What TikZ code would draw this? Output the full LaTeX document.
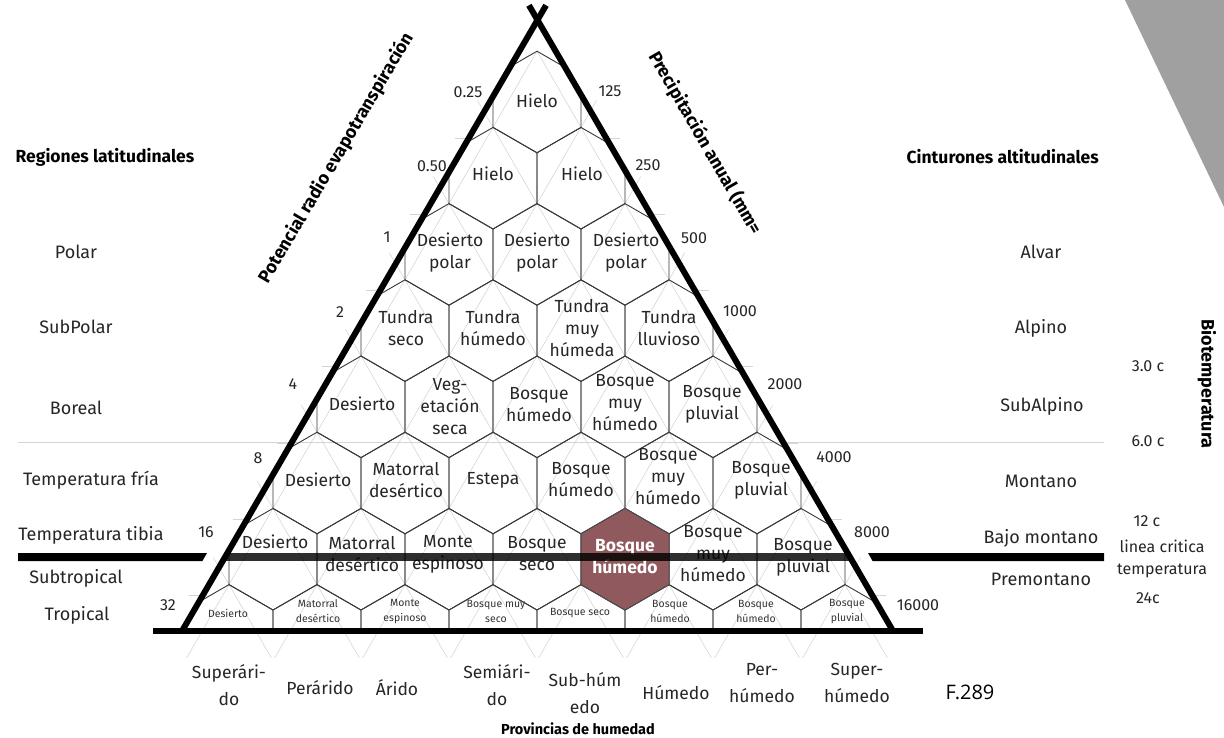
\documentclass[tikz,border=0pt]{standalone}
\usepackage{fontspec}
\setmainfont{Fira Sans}
\newfontfamily\figfont{Open Sans}
\definecolor{hexbrown}{RGB}{143,89,94}
\definecolor{guidegray}{RGB}{212,212,212}
\definecolor{bandgray}{RGB}{160,160,160}
\begin{document}
\begin{tikzpicture}[x=1pt,y=-1pt,
  hexline/.style={draw=black!78,line width=0.9pt,line join=miter},
  guide/.style={draw=guidegray,line width=0.55pt},
  hexlbl/.style={font=\fontsize{17.5}{22}\selectfont,align=center,inner sep=0pt,text=black!85},
  hilbl/.style={font=\bfseries\fontsize{17.5}{22}\selectfont,align=center,inner sep=0pt,text=white},
  smalllbl/.style={font=\fontsize{10.5}{15}\selectfont,align=center,inner sep=0pt,text=black!80},
  sidelbl/.style={font=\fontsize{18}{22}\selectfont,inner sep=0pt,text=black!85,align=center},
  numlbl/.style={font=\fontsize{16}{22}\selectfont,inner sep=0pt,text=black!85},
  titlelbl/.style={font=\bfseries\fontsize{17.5}{20}\selectfont,inner sep=0pt},
  provtitle/.style={font=\bfseries\fontsize{14.5}{17}\selectfont,inner sep=0pt},
  axislbl/.style={font=\bfseries\fontsize{18}{20}\selectfont,inner sep=0pt},
  provlbl/.style={font=\fontsize{17.5}{27}\selectfont,align=center,inner sep=0pt,text=black!85},
  thickbar/.style={fill=black},
]
\useasboundingbox (0,0) rectangle (1224,737);
\fill[white] (0,0) rectangle (1224,737);
\fill[bandgray] (1125,0) -- (1224,0) -- (1224,207) -- cycle;

\coordinate (A) at (182,631);
\coordinate (B) at (893,631);
\coordinate (C) at (537.5,20);

% full guide line
\draw[guide] (18,442) -- (1104,442);

% guide lines (two diagonal families)
\draw[guide] (537,51.2) -- (186.6,658);
\draw[guide] (537,51.2) -- (887.4,658);
\foreach \j in {1,...,7}{
  \pgfmathsetmacro\px{537+44*\j}
  \pgfmathsetmacro\qx{537-44*\j}
  \pgfmathsetmacro\py{51.2+76.2*\j}
  \pgfmathsetmacro\t{(658-\py)/76.2}
  \draw[guide] (\px+15.6,\py-27) -- (\px-44*\t,658);
  \draw[guide] (\qx-15.6,\py-27) -- (\qx+44*\t,658);
}
% horizontal stubs
\foreach \k in {0,...,6}{
  \pgfmathsetmacro\yy{138+76.2*\k}
  \pgfmathsetmacro\xl{182+(631-\yy)/1.7195}
  \pgfmathsetmacro\xr{893-(631-\yy)/1.7195}
  \draw[guide] (\xl-14,\yy) -- (\xl+4,\yy);
  \draw[guide] (\xr-4,\yy) -- (\xr+14,\yy);
}

% hexagons
\begin{scope}
\clip (A) -- (C) -- (B) -- cycle;
\foreach \k in {0,...,7}{
 \foreach \j in {0,...,\k}{
  \pgfmathsetmacro\cx{537+88*(\j-\k/2)}
  \pgfmathsetmacro\cy{102+76.2*\k}
  \draw[hexline] (\cx,\cy-50.8) -- ++(44,25.4) -- ++(0,50.8) -- ++(-44,25.4) -- ++(-44,-25.4) -- ++(0,-50.8) -- cycle;
 }}
\filldraw[fill=hexbrown,draw=black!70,line width=1pt] (625,508.4) -- ++(44,25.4) -- ++(0,50.8) -- ++(-44,25.4) -- ++(-44,-25.4) -- ++(0,-50.8) -- cycle;
\end{scope}

% hexagon labels
\node[hexlbl] (h00) at (537,101) {Hielo};
\node[hexlbl] (h10) at (493,174) {Hielo};
\node[hexlbl] (h11) at (582,174) {Hielo};
\node[hexlbl] (h20) at (450,253) {Desierto\\polar};
\node[hexlbl] (h21) at (537,253) {Desierto\\polar};
\node[hexlbl] (h22) at (626,253) {Desierto\\polar};
\node[hexlbl] (h30) at (406,328) {Tundra\\seco};
\node[hexlbl] (h31) at (493,328) {Tundra\\húmedo};
\node[hexlbl] (h32) at (582,328) {Tundra\\muy\\húmeda};
\node[hexlbl] (h33) at (669,328) {Tundra\\lluvioso};
\node[hexlbl] (h40) at (362,404) {Desierto};
\node[hexlbl] (h41) at (450,407) {Veg-\\etación\\seca};
\node[hexlbl] (h42) at (539,405) {Bosque\\húmedo};
\node[hexlbl] (h43) at (625,403) {Bosque\\muy\\húmedo};
\node[hexlbl] (h44) at (712,404) {Bosque\\pluvial};
\node[hexlbl] (h50) at (318,480) {Desierto};
\node[hexlbl] (h51) at (406,480) {Matorral\\desértico};
\node[hexlbl] (h52) at (493,480) {Estepa};
\node[hexlbl] (h53) at (581,480) {Bosque\\húmedo};
\node[hexlbl] (h54) at (668,477) {Bosque\\muy\\húmedo};
\node[hexlbl] (h55) at (761,480) {Bosque\\pluvial};
\node[hexlbl] (h60) at (275,542) {Desierto};
\node[hexlbl] (h61) at (362,554) {Matorral\\desértico};
\node[hexlbl] (h62) at (448,554) {Monte\\espinoso};
\node[hexlbl] (h63) at (537,554) {Bosque\\seco};
\node[hilbl]  (h64) at (625,557) {Bosque\\húmedo};
\node[hexlbl] (h65) at (713,554) {Bosque\\muy\\húmedo};
\node[hexlbl] (h66) at (803,557) {Bosque\\pluvial};
\node[smalllbl] (h70) at (228,613) {Desierto};
\node[smalllbl] (h71) at (318,611) {Matorral\\desértico};
\node[smalllbl] (h72) at (405,611) {Monte\\espinoso};
\node[smalllbl] (h73) at (496,611) {Bosque muy\\seco};
\node[smalllbl] (h74) at (580,613) {Bosque seco};
\node[smalllbl] (h75) at (670,611) {Bosque\\húmedo};
\node[smalllbl] (h76) at (756,611) {Bosque\\húmedo};
\node[smalllbl] (h77) at (847,611) {Bosque\\pluvial};

% critical temperature line
\begin{scope}
\clip (A) -- (C) -- (B) -- cycle;
\fill[black,opacity=0.82] (150,553) rectangle (930,561);
\end{scope}
\fill[thickbar] (18,553) -- (207,553) -- (202.4,561) -- (18,561) -- cycle;
\fill[thickbar] (868,553) -- (1104,553) -- (1104,561) -- (872.6,561) -- cycle;

% triangle
\draw[line width=6pt] (153,631) -- (923,631);
\draw[line width=6pt] (A) -- (546.05,5.3);
\draw[line width=6pt] (B) -- (528.95,5.3);

% axis numbers
\node[numlbl] (l1) at (468,92) {0.25};
\node[numlbl] (l2) at (432,166) {0.50};
\node[numlbl] (l3) at (387,237) {1};
\node[numlbl] (l4) at (340,312) {2};
\node[numlbl] (l5) at (293,384) {4};
\node[numlbl] (l6) at (258,458) {8};
\node[numlbl] (l7) at (206,532) {16};
\node[numlbl] (l8) at (168,605) {32};
\node[numlbl] (r1) at (610,91) {125};
\node[numlbl] (r2) at (648,165) {250};
\node[numlbl] (r3) at (694,238) {500};
\node[numlbl] (r4) at (740,311) {1000};
\node[numlbl] (r5) at (785,384) {2000};
\node[numlbl] (r6) at (834,457) {4000};
\node[numlbl] (r7) at (872,532) {8000};
\node[numlbl] (r8) at (918,605) {16000};

% axis titles
\node[axislbl,rotate=59.5] (pet) at (336,158) {Potencial radio evapotranspiración};
\node[axislbl,rotate=-60] (pre) at (705,143) {Precipitación anual (mm=};

% left column
\node[titlelbl] (regt) at (105,157) {Regiones latitudinales};
\node[sidelbl] (lpol) at (76,252) {Polar};
\node[sidelbl] (lsub) at (76,327) {SubPolar};
\node[sidelbl] (lbor) at (76,408) {Boreal};
\node[sidelbl] (ltf) at (91,480) {Temperatura fría};
\node[sidelbl] (ltt) at (91,535) {Temperatura tibia};
\node[sidelbl] (lst) at (76,578) {Subtropical};
\node[sidelbl] (ltr) at (77,615) {Tropical};

% right column
\node[titlelbl,anchor=east] (cint) at (1099,157) {Cinturones altitudinales};
\node[sidelbl] (ralv) at (1041,252) {Alvar};
\node[sidelbl] (ralp) at (1041,328) {Alpino};
\node[sidelbl] (rsub) at (1042,406) {SubAlpino};
\node[sidelbl] (rmon) at (1041,481) {Montano};
\node[sidelbl] (rbaj) at (1041,538) {Bajo montano};
\node[sidelbl] (rpre) at (1041,579) {Premontano};
\node[numlbl] (t3) at (1148,366) {3.0 c};
\node[numlbl] (t6) at (1148,441) {6.0 c};
\node[numlbl] (t12) at (1147,521) {12 c};
\node[numlbl,align=center] (tcrit) at (1162,559) {linea critica\\temperatura};
\node[numlbl] (t24) at (1148,598) {24c};
\node[axislbl,rotate=-90] (bio) at (1207,384) {Biotemperatura};

% humidity provinces
\node[provlbl] (p1) at (229,685) {Superári-\\do};
\node[provlbl] (p2) at (320,688) {Perárido};
\node[provlbl] (p3) at (397,688) {Árido};
\node[provlbl] (p4) at (497,685) {Semiári-\\do};
\node[provlbl] (p5) at (585,693) {Sub-húm\\edo};
\node[provlbl] (p6) at (676,693) {Húmedo};
\node[provlbl] (p7) at (762,683) {Per-\\húmedo};
\node[provlbl] (p8) at (857,683) {Super-\\húmedo};
\node[provtitle] (prov) at (578,729) {Provincias de humedad};
\node[font=\figfont\fontsize{20}{22}\selectfont,inner sep=0pt] (fig) at (970,692) {F.289};
\end{tikzpicture}
\end{document}
